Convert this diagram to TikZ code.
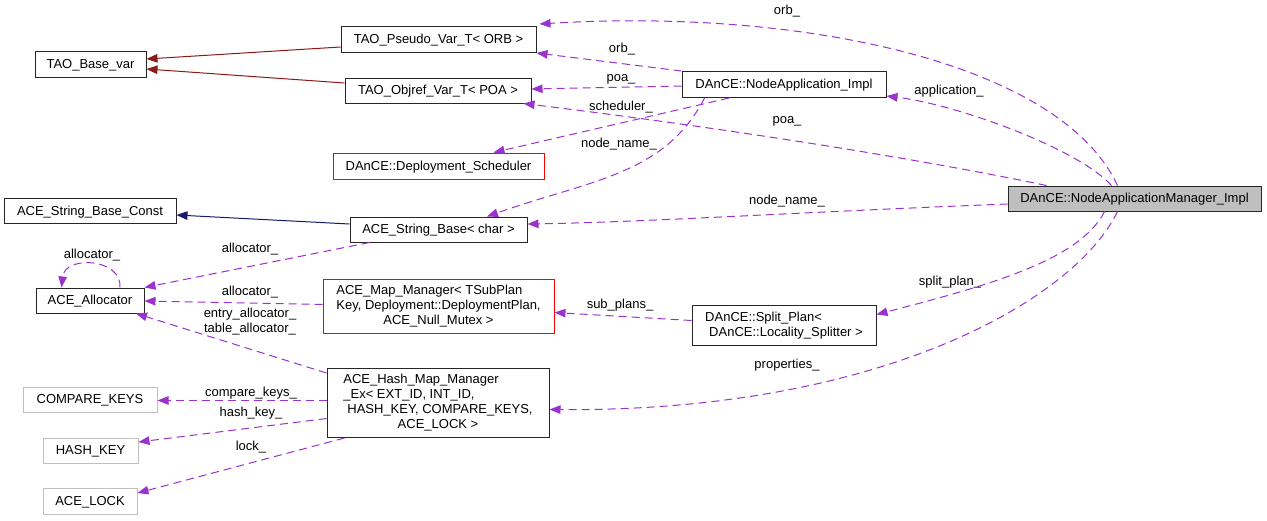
\documentclass[tikz,border=0pt]{standalone}
\usepackage{fontspec}
\setmainfont{Liberation Sans}
\usetikzlibrary{arrows.meta}
\definecolor{edgepurple}{HTML}{9A32CD}
\definecolor{inhred}{HTML}{8B1A1A}
\definecolor{inhblue}{HTML}{191970}
\definecolor{greyseventyfive}{HTML}{BFBFBF}
\begin{document}
\begin{tikzpicture}[x=1pt,y=-1pt,
  every node/.style={font=\fontsize{13}{15}\selectfont, inner sep=0pt},
  box/.style={draw=black!85, line width=1pt, rectangle},
  redbox/.style={draw=red, line width=1pt, rectangle},
  greybox/.style={draw=greyseventyfive, line width=1pt, rectangle},
  sl/.style={text height=10pt, text depth=1.5pt},
  ref/.style={draw=edgepurple, line width=1pt, dash pattern=on 8pt off 5pt,
    -{Triangle[length=11pt,width=8.5pt]}},
  inh/.style={draw=#1, line width=1pt, -{Triangle[length=11pt,width=8.5pt]}},
  lbl/.style={inner sep=0pt}]
\path[fill=white] (0,0) rectangle (1267,520);
\useasboundingbox (0,0) rectangle (1267,520);

% nodes
\node[box, sl, minimum width=111pt, minimum height=26pt] (base) at (90.5,64) {TAO\_Base\_var};
\node[box, sl, minimum width=195pt, minimum height=26pt] (pseudo) at (438.5,39.5) {TAO\_Pseudo\_Var\_T< ORB >};
\node[box, sl, minimum width=186pt, minimum height=25pt] (objref) at (438,90.5) {TAO\_Objref\_Var\_T< POA >};
\node[box, sl, minimum width=204pt, minimum height=26pt] (napp) at (784,84.5) {DAnCE::NodeApplication\_Impl};
\node[redbox, sl, minimum width=211pt, minimum height=26pt] (sched) at (438.5,166) {DAnCE::Deployment\_Scheduler};
\node[box, sl, minimum width=172pt, minimum height=25pt] (sbc) at (90,211) {ACE\_String\_Base\_Const};
\node[box, sl, minimum width=177pt, minimum height=25pt] (sb) at (438.5,229.5) {ACE\_String\_Base< char >};
\node[box, sl, fill=greyseventyfive, minimum width=253pt, minimum height=25pt] (mgr) at (1134.5,198.5) {DAnCE::NodeApplicationManager\_Impl};
\node[box, sl, minimum width=108pt, minimum height=25pt] (alloc) at (90,300.5) {ACE\_Allocator};
\node[redbox, minimum width=231pt, minimum height=54pt] (map) at (438.5,306.5)
  {\begin{tabular}{@{}l@{}}ACE\_Map\_Manager< TSubPlan\\Key, Deployment::DeploymentPlan,\\\multicolumn{1}{@{}c@{}}{ACE\_Null\_Mutex >}\end{tabular}};
\node[box, minimum width=184pt, minimum height=40pt] (split) at (784,325.5)
  {\begin{tabular}{@{}l@{}}DAnCE::Split\_Plan<\\\hspace{4pt}DAnCE::Locality\_Splitter >\end{tabular}};
\node[box, minimum width=222pt, minimum height=69pt] (hash) at (438,403)
  {\begin{tabular}{@{}l@{}}ACE\_Hash\_Map\_Manager\\\_Ex< EXT\_ID, INT\_ID,\\\hspace{4pt}HASH\_KEY, COMPARE\_KEYS,\\\multicolumn{1}{@{}c@{}}{ACE\_LOCK >}\end{tabular}};
\node[greybox, sl, minimum width=134pt, minimum height=25pt] (ck) at (90,399.5) {COMPARE\_KEYS};
\node[greybox, sl, minimum width=95pt, minimum height=25pt] (hk) at (90.5,450.5) {HASH\_KEY};
\node[greybox, sl, minimum width=94pt, minimum height=26pt] (lock) at (90,501) {ACE\_LOCK};

% inheritance
\draw[inh=inhred] ([yshift=-7.5pt]pseudo.west) -- ([yshift=5pt]base.east);
\draw[inh=inhred] ([yshift=7.5pt]objref.west) -- ([yshift=-5pt]base.east);
\draw[inh=inhblue] ([yshift=5.5pt]sb.west) -- ([yshift=-4pt]sbc.east);

% references
\draw[ref] ([xshift=110pt]mgr.north west) .. controls (1060,62) and (800,8) .. ([xshift=3pt,yshift=2pt]pseudo.north east);
\draw[ref] (napp.north west) -- (pseudo.south east);
\draw[ref] ([yshift=-1.5pt]napp.west) -- ([yshift=1.5pt]objref.east);
\draw[ref] ([xshift=-55pt]napp.south) -- ([xshift=55pt]sched.north);
\draw[ref] ([xshift=23pt]napp.south west) .. controls (665,175) and (590,180) .. ([xshift=48.5pt]sb.north);
\draw[ref] ([xshift=39pt]mgr.north west) .. controls (900,155) and (700,125) .. ([xshift=-8pt]objref.south east);
\draw[ref] ([xshift=104pt]mgr.north west) .. controls (1080,150) and (960,105) .. ([yshift=2pt]napp.south east);
\draw[ref] ([yshift=-5.5pt]mgr.west) .. controls (800,212) and (650,222) .. ([yshift=5.5pt]sb.east);
\draw[ref] ([xshift=97pt]mgr.south west) .. controls (1080,260) and (990,285) .. ([yshift=11pt]split.east);
\draw[ref] ([xshift=110pt]mgr.south west) .. controls (1075,300) and (880,412) .. ([yshift=-6.5pt]hash.east);
\draw[ref] ([yshift=5pt]split.west) -- ([yshift=-6pt]map.east);
\draw[ref] ([xshift=20pt]sb.south west) -- (alloc.north east);
\draw[ref] ([yshift=2pt]map.west) -- ([yshift=-0.5pt]alloc.east);
\draw[ref] ([yshift=-5pt]hash.north west) -- ([xshift=46pt]alloc.south);
\draw[ref] ([yshift=2.5pt]hash.west) -- ([yshift=-1pt]ck.east);
\draw[ref] ([yshift=-15.5pt]hash.west) -- ([yshift=8.5pt]hk.east);
\draw[ref] ([xshift=18pt]hash.south west) -- ([yshift=8pt]lock.east);
\draw[ref] ([xshift=30pt]alloc.north) .. controls (122,258) and (65,255) .. ([xshift=26pt]alloc.north west);

% labels
\node[lbl] (l1) at (787,11) {orb\_};
\node[lbl] (l2) at (622,49) {orb\_};
\node[lbl] (l3) at (621,79) {poa\_};
\node[lbl] (l4) at (621,107) {scheduler\_};
\node[lbl] (l5) at (949,91) {application\_};
\node[lbl] (l6) at (787,121) {poa\_};
\node[lbl] (l7) at (619,144) {node\_name\_};
\node[lbl] (l8) at (787,201) {node\_name\_};
\node[lbl] (l9) at (92,255) {allocator\_};
\node[lbl] (l10) at (250,249) {allocator\_};
\node[lbl] (l11) at (250,292) {allocator\_};
\node[lbl, align=center] (l12) at (250,322) {entry\_allocator\_\\table\_allocator\_};
\node[lbl] (l13) at (950,282) {split\_plan\_};
\node[lbl] (l14) at (620,305) {sub\_plans\_};
\node[lbl] (l15) at (787,365) {properties\_};
\node[lbl] (l16) at (251,393) {compare\_keys\_};
\node[lbl] (l17) at (251,413) {hash\_key\_};
\node[lbl] (l18) at (251,447) {lock\_};
\end{tikzpicture}
\end{document}
